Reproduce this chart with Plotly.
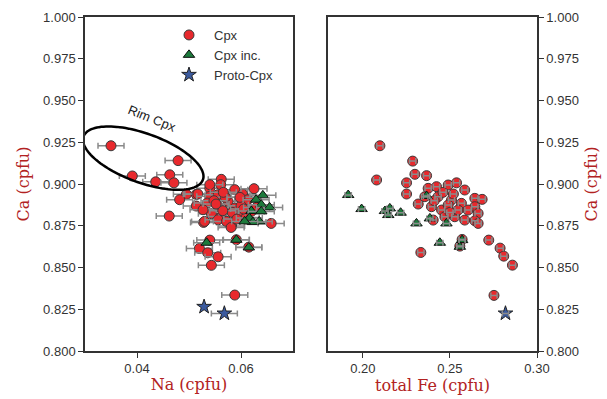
import numpy as np
import plotly.graph_objects as go

# ---------------- data ----------------
# Left panel: Na (cpfu) vs Ca (cpfu)
na_cpx = [0.0350, 0.0479, 0.0391, 0.0463, 0.0436, 0.0471,
          0.0562, 0.0495, 0.0482, 0.0462, 0.0514, 0.0540, 0.0514, 0.0528, 0.0582, 0.0658,
          0.0540, 0.0591, 0.0615, 0.0520, 0.0536, 0.0556, 0.0543, 0.0588,
          0.0561, 0.0540, 0.0517, 0.0540, 0.0556, 0.0588, 0.0603, 0.0625, 0.0613, 0.0535,
          0.0556, 0.0575, 0.0588, 0.0543, 0.0562, 0.0594, 0.0620, 0.0530, 0.0556, 0.0572,
          0.0581, 0.0527, 0.0600, 0.0570, 0.0610, 0.0566, 0.0598, 0.0548, 0.0583, 0.0605,
          0.0565, 0.0592, 0.0552, 0.0630]
ca_cpx_l = [0.9229, 0.9140, 0.9048, 0.9055, 0.9013, 0.9007,
            0.9028, 0.8938, 0.8906, 0.8808, 0.8938, 0.8974, 0.8868, 0.8770, 0.8748, 0.8764,
            0.8664, 0.8666, 0.8622, 0.8614, 0.8588, 0.8564, 0.8513, 0.8335,
            0.8996, 0.8996, 0.8940, 0.8926, 0.8936, 0.8966, 0.8940, 0.8972, 0.8906, 0.8886,
            0.8866, 0.8896, 0.8856, 0.8822, 0.8806, 0.8816, 0.8836, 0.8776, 0.8786, 0.8776,
            0.8740, 0.8846, 0.8870, 0.8920, 0.8800, 0.8950, 0.8920, 0.8900, 0.8830, 0.8850,
            0.8840, 0.8790, 0.8880, 0.8860]
na_inc = [0.0534, 0.0591, 0.0615, 0.0642, 0.0629, 0.0639, 0.0655, 0.0620, 0.0639,
          0.0616, 0.0635, 0.0623, 0.0607]
ca_inc_l = [0.8648, 0.8666, 0.8620, 0.8932, 0.8906, 0.8876, 0.8860, 0.8838, 0.8836,
            0.8796, 0.8776, 0.8772, 0.8776]
na_proto = [0.0529, 0.0568]
ca_proto_l = [0.8265, 0.8225]
na_err_proto = [0.0, 0.0025]
na_err = 0.0025

# Right panel: total Fe (cpfu) vs Ca (cpfu)
fe_cpx = [0.2098, 0.2286, 0.2079, 0.2299, 0.2366, 0.2251, 0.2251, 0.2318, 0.2333,
          0.2723, 0.2788, 0.2809, 0.2859, 0.2753,
          0.2375, 0.2423, 0.2490, 0.2538, 0.2585, 0.2643, 0.2685, 0.2643, 0.2662, 0.2643,
          0.2662, 0.2585, 0.2528, 0.2452, 0.2394, 0.2356, 0.2432, 0.2509, 0.2566, 0.2471,
          0.2404, 0.2547, 0.2604, 0.2490, 0.2570, 0.2557, 0.2460, 0.2520, 0.2410, 0.2500]
ca_cpx_r = [0.9229, 0.9137, 0.9024, 0.9058, 0.9050, 0.9007, 0.8940, 0.8880, 0.8590,
            0.8664, 0.8616, 0.8568, 0.8514, 0.8333,
            0.8974, 0.8984, 0.8994, 0.9007, 0.8964, 0.8914, 0.8908, 0.8864, 0.8824, 0.8780,
            0.8764, 0.8784, 0.8804, 0.8844, 0.8864, 0.8924, 0.8924, 0.8904, 0.8884, 0.8804,
            0.8784, 0.8844, 0.8844, 0.8874, 0.8668, 0.8628, 0.8950, 0.8940, 0.8900, 0.8830]
fe_inc = [0.1916, 0.1993, 0.2127, 0.2155, 0.2146, 0.2217, 0.2308, 0.2442, 0.2570,
          0.2557, 0.2366, 0.2385, 0.2480]
ca_inc_r = [0.8934, 0.8850, 0.8838, 0.8854, 0.8814, 0.8828, 0.8764, 0.8648, 0.8664,
            0.8624, 0.8928, 0.8794, 0.8764]
fe_proto = [0.2819]
ca_proto_r = [0.8225]
fe_err = 0.0018

x_ticks_l = [0.04, 0.06]
x_ticks_r = [0.20, 0.25, 0.30]
y_ticks = [0.800, 0.825, 0.850, 0.875, 0.900, 0.925, 0.950, 0.975, 1.000]

# ---------------- styling ----------------
RED = "#e8292d"
GREEN = "#1d7a3c"
BLUE = "#3b5a9e"
EDGE = "#3a3a3a"
ERR = "#8a8a8a"
AX = "#333333"
TITLE_C = "#b22222"

W, H = 607, 399
ml, mr, mt, mb = 85, 70, 17, 48
pw = W - ml - mr
dom_l = [0, (293 - ml) / pw]
dom_r = [(328 - ml) / pw, 1]
xr_l = [0.03, 0.07]
xr_r = [0.18, 0.30]
yr = [0.80, 1.00]

MK = {
    "Cpx": dict(symbol="circle", size=10, color=RED, line=dict(color=EDGE, width=1)),
    "Cpx inc.": dict(symbol="triangle-up", size=10, color=GREEN, line=dict(color="#111111", width=1)),
    "Proto-Cpx": dict(symbol="star", size=11, color=BLUE, line=dict(color="#222222", width=1)),
}

fig = go.Figure()


def ebar(val, w=3):
    return dict(type="constant", value=val, color=ERR, thickness=1.5, width=w, visible=val > 0)


# Left panel: each point drawn with its own error bar (later points overlay earlier ones)
left_sets = [("Cpx", na_cpx, ca_cpx_l, [na_err] * len(na_cpx)),
             ("Cpx inc.", na_inc, ca_inc_l, [na_err] * len(na_inc)),
             ("Proto-Cpx", na_proto, ca_proto_l, na_err_proto)]
for name, xs, ys, errs in left_sets:
    for i, (xv, yv, ev) in enumerate(zip(xs, ys, errs)):
        fig.add_trace(go.Scatter(x=[xv], y=[yv], mode="markers", name=name, legendgroup=name,
                                 showlegend=(i == 0), marker=MK[name], error_x=ebar(ev),
                                 xaxis="x", yaxis="y"))

# Right panel: markers, then error bars drawn over them
right_sets = [("Cpx", fe_cpx, ca_cpx_r), ("Cpx inc.", fe_inc, ca_inc_r), ("Proto-Cpx", fe_proto, ca_proto_r)]
for name, xs, ys in right_sets:
    fig.add_trace(go.Scatter(x=xs, y=ys, mode="markers", showlegend=False, legendgroup=name,
                             marker=MK[name], xaxis="x2", yaxis="y2"))
for name, xs, ys in right_sets:
    fig.add_trace(go.Scatter(x=xs, y=ys, mode="markers", showlegend=False, hoverinfo="skip",
                             marker=dict(size=1, opacity=0),
                             error_x=ebar(fe_err, w=3), xaxis="x2", yaxis="y2"))

# Ellipse around rim Cpx (defined in pixel geometry, converted to data units)
px_per_x = (dom_l[1] - dom_l[0]) * pw / (xr_l[1] - xr_l[0])
px_per_y = (H - mt - mb) / (yr[1] - yr[0])
ell_c = (0.0412, 0.9155)
ell_a, ell_b, ell_ang = 63.5, 24.5, np.deg2rad(20)
t = np.linspace(0, 2 * np.pi, 120)
u = ell_a * np.cos(t)
v = ell_b * np.sin(t)
dx = u * np.cos(ell_ang) - v * np.sin(ell_ang)
dy = u * np.sin(ell_ang) + v * np.cos(ell_ang)  # screen y downward
ex = ell_c[0] + dx / px_per_x
ey = ell_c[1] - dy / px_per_y
path = "M " + " L ".join(f"{a:.6f},{b:.6f}" for a, b in zip(ex, ey)) + " Z"
fig.add_shape(type="path", path=path, xref="x", yref="y", line=dict(color="black", width=2.5))
fig.add_annotation(x=0.0429, y=0.9395, xref="x", yref="y", text="Rim Cpx", showarrow=False,
                   textangle=22, font=dict(family="Liberation Sans, Arial", size=13, color="#222222"))

tickfont = dict(family="Liberation Sans, Arial", size=13, color=AX)
titlefont = dict(family="DejaVu Serif", size=16, color=TITLE_C)
common = dict(showline=True, linecolor=AX, linewidth=1.5, mirror=True, ticks="outside",
              ticklen=5, tickwidth=1, tickcolor=AX, showgrid=False, zeroline=False,
              tickfont=tickfont, automargin=False)

fig.update_layout(
    width=W, height=H, margin=dict(l=ml, r=mr, t=mt, b=mb, autoexpand=False),
    paper_bgcolor="white", plot_bgcolor="white",
    xaxis=dict(domain=dom_l, range=xr_l, tickvals=x_ticks_l, tickformat=".2f", anchor="y",
               title=dict(text="Na (cpfu)", font=titlefont, standoff=3), **common),
    yaxis=dict(range=yr, tickvals=y_ticks, tickformat=".3f", anchor="x",
               title=dict(text="Ca (cpfu)", font=titlefont, standoff=10), **common),
    xaxis2=dict(domain=dom_r, range=xr_r, tickvals=x_ticks_r, tickformat=".2f", anchor="y2",
                title=dict(text="total Fe (cpfu)", font=titlefont, standoff=3), **common),
    yaxis2=dict(range=yr, tickvals=y_ticks, tickformat=".3f", anchor="x2", side="right",
                title=dict(text="Ca (cpfu)", font=titlefont, standoff=8), **common),
    legend=dict(x=(164 - ml) / pw, y=1 - 3 / (H - mt - mb), xanchor="left", yanchor="top",
                bgcolor="rgba(0,0,0,0)", font=dict(family="Liberation Sans, Arial", size=13, color=AX),
                itemwidth=40, tracegroupgap=0),
    showlegend=True,
)

fig.write_html("out.html")
